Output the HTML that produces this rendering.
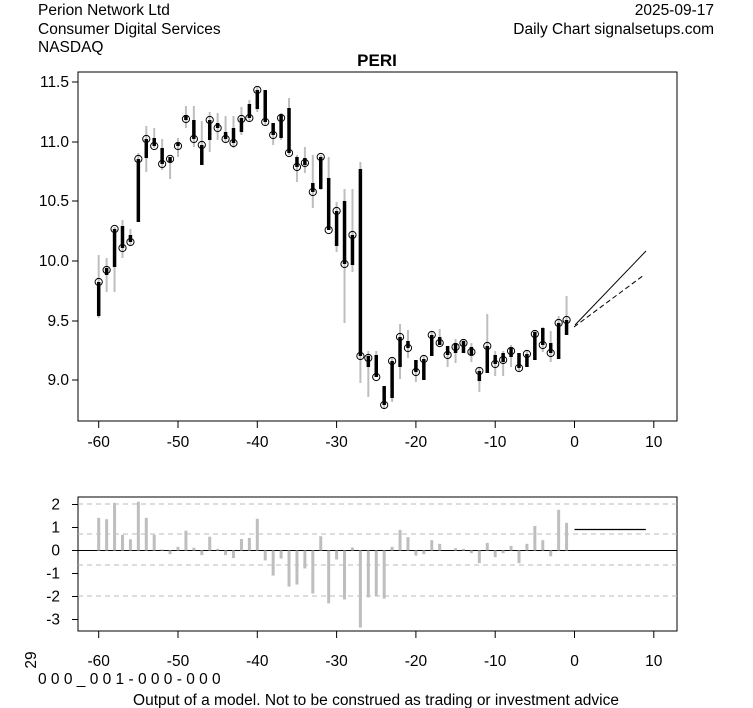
<!DOCTYPE html>
<html><head><meta charset="utf-8"><style>
html,body{margin:0;padding:0;background:#fff;}
svg{display:block;font-family:"Liberation Sans",Arial,sans-serif;}
</style></head><body>
<svg id="s" width="753" height="708" viewBox="0 0 753 708" xmlns="http://www.w3.org/2000/svg">
<rect width="753" height="708" fill="#fff"/>
<g font-size="15.5" fill="#000">
<text x="38" y="15">Perion Network Ltd</text>
<text x="38" y="34">Consumer Digital Services</text>
<text x="38" y="52">NASDAQ</text>
<text x="714" y="15" text-anchor="end">2025-09-17</text>
<text x="714" y="34" text-anchor="end">Daily Chart signalsetups.com</text>
<text x="377" y="66" text-anchor="middle" font-weight="bold" font-size="17">PERI</text>
<text x="38" y="684">0 0 0 _ 0 0 1 - 0 0 0 - 0 0 0</text>
<text x="376" y="705" text-anchor="middle">Output of a model. Not to be construed as trading or investment advice</text>
<text transform="translate(36,660) rotate(-90)" text-anchor="middle">29</text>
</g>
<g id="g"></g>
</svg>
<script>
var g=document.getElementById('g'),h='';
function X(i){return 574.5+i*7.93;}
h+='<rect x="78" y="72" width="599" height="349" fill="none" stroke="#000"/>';
h+='<rect x="78" y="497" width="599" height="134" fill="none" stroke="#000"/>';
var yl=[[11.5,82],[11.0,142],[10.5,201],[10.0,261],[9.5,321],[9.0,380]];
yl.forEach(function(v){h+='<line x1="72" x2="78" y1="'+v[1]+'" y2="'+v[1]+'" stroke="#000"/><text x="69" y="'+(v[1]+5)+'" text-anchor="end" font-size="15.5">'+v[0].toFixed(1)+'</text>';});
for(var k=-60;k<=10;k+=10){var x=X(k);
h+='<line x1="'+x+'" x2="'+x+'" y1="421" y2="428" stroke="#000"/><text x="'+x+'" y="447" text-anchor="middle" font-size="15.5">'+k+'</text>';
h+='<line x1="'+x+'" x2="'+x+'" y1="631" y2="638" stroke="#000"/><text x="'+x+'" y="666" text-anchor="middle" font-size="15.5">'+k+'</text>';}
for(var v=2;v>=-3;v--){var y=550.5-v*23;h+='<line x1="72" x2="78" y1="'+y+'" y2="'+y+'" stroke="#000"/><text x="60" y="'+(y+5)+'" text-anchor="end" font-size="15.5">'+v+'</text>';}
[504,534,565,596].forEach(function(y){h+='<line x1="78" x2="677" y1="'+y+'" y2="'+y+'" stroke="#bbb" stroke-dasharray="5,4"/>';});
h+='<line x1="78" x2="677" y1="550.5" y2="550.5" stroke="#000"/>';
var bars=[1.42,1.36,2.07,0.68,0.49,2.12,1.42,0.68,0.04,-0.16,0.16,0.86,0.12,-0.2,0.6,0.07,-0.2,-0.33,0.5,0.55,1.38,-0.43,-1.09,-0.35,-1.57,-1.48,-0.78,-1.87,0.62,-2.3,-0.39,-2.13,0.13,-3.35,-2.04,-1.96,-2.09,0.16,0.9,0.58,-0.22,-0.16,0.45,0.29,0,0.1,0.07,-0.12,-0.55,0.33,-0.29,-0.12,0.2,-0.55,0.29,1.07,0.45,-0.25,1.77,1.2];
bars.forEach(function(b,i){var x=X(i-60),y=550.5-b*23;h+='<line x1="'+x+'" x2="'+x+'" y1="550.5" y2="'+y+'" stroke="#bebebe" stroke-width="3"/>';});
h+='<line x1="'+X(0)+'" x2="'+X(9)+'" y1="529.5" y2="529.5" stroke="#000" stroke-width="1.3"/>';
var c=[[255,318,282,316,282],[258,292,268,275,270],[227,292,229,267,229],[220,258,226,248,248],[229,245,235,242,242],[153,222,159,222,159],[126,172,139,158,139],[128,148,138,146,146],[139,170,148,164,164],[157,179,157,162,159],[138,157,143,146,146],[106,128,115,120,119],[106,147,120,139,139],[121,165,145,165,145],[112,152,120,140,120],[113,140,123,128,128],[116,142,132,139,139],[116,148,128,143,143],[107,135,118,132,119],[100,122,104,118,118],[87,112,90,109,90],[90,125,90,122,122],[123,145,123,135,135],[113,140,115,138,118],[98,155,108,153,153],[155,182,157,167,167],[147,173,158,165,163],[155,208,183,192,192],[155,190,157,189,157],[157,230,178,230,230],[202,252,211,246,211],[189,323,201,264,264],[189,272,235,265,235],[162,383,169,356,356],[351,397,356,367,358],[351,377,355,377,377],[386,408,386,405,405],[358,402,361,398,361],[324,379,337,367,337],[330,358,341,348,348],[360,382,360,372,372],[355,380,359,380,359],[331,356,335,356,335],[329,345,337,345,343],[346,367,346,355,355],[339,363,343,353,347],[339,353,341,353,343],[343,362,347,355,352],[368,392,371,381,371],[314,373,346,373,346],[351,376,355,364,364],[351,376,353,362,360],[345,367,348,357,351],[353,371,353,368,368],[351,367,354,367,354],[330,360,332,360,334],[327,352,328,345,345],[331,362,343,353,353],[316,359,323,359,323],[296,335,320,335,320]];
c.forEach(function(d,i){var x=X(i-60);
h+='<line x1="'+x+'" x2="'+x+'" y1="'+d[0]+'" y2="'+d[1]+'" stroke="#bebebe" stroke-width="2"/>';
h+='<line x1="'+x+'" x2="'+x+'" y1="'+d[2]+'" y2="'+d[3]+'" stroke="#000" stroke-width="3.5"/>';
h+='<circle cx="'+x+'" cy="'+d[4]+'" r="3.6" fill="none" stroke="#000" stroke-width="1"/>';});
h+='<line x1="575" y1="325" x2="646" y2="251" stroke="#000"/>';
h+='<line x1="574" y1="327" x2="644" y2="275" stroke="#000" stroke-dasharray="5,3"/>';
g.innerHTML=h;
</script>
</body></html>
